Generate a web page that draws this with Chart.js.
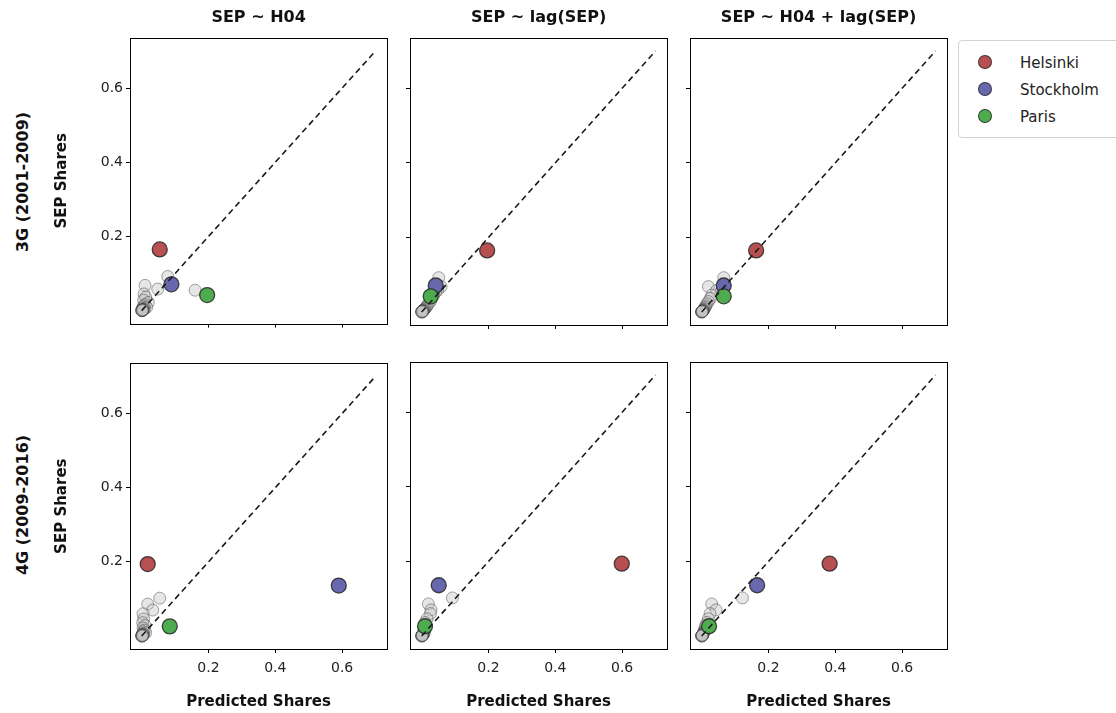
<!DOCTYPE html>
<html>
<head>
<meta charset="utf-8">
<script src="https://cdn.jsdelivr.net/npm/chart.js@4.4.1/dist/chart.umd.min.js"></script>
<style>
  body { margin: 0; background: #fff; width: 1116px; height: 713px; overflow: hidden; position: relative; font-family: 'DejaVu Sans', sans-serif; }
  canvas { position: absolute; }
  .rowlabel { position: absolute; font-weight: bold; font-size: 16px; color: #111; white-space: nowrap; transform: translate(-50%, -50%) rotate(-90deg); }
  .legend { position: absolute; left: 958px; top: 40px; width: 180px; height: 96px; border: 1px solid #d2d2d2; border-radius: 4px; background: #fff; }
  .legend .item { position: absolute; left: 0; height: 20px; }
  .legend .dot { position: absolute; left: 19px; top: 2px; width: 14px; height: 14px; border-radius: 50%; box-sizing: border-box; border: 1px solid rgba(40,40,40,0.8); }
  .legend .txt { position: absolute; left: 61px; top: 0; font-size: 15px; line-height: 20px; color: #222; }
</style>
</head>
<body>
<div class="rowlabel" style="left:22px;top:182px">3G (2001-2009)</div>
<div class="rowlabel" style="left:22px;top:505px">4G (2009-2016)</div>
<div class="legend" id="legend"></div>
<script>
const models = ['SEP ~ H04', 'SEP ~ lag(SEP)', 'SEP ~ H04 + lag(SEP)'];
const generations = ['3G (2001-2009)', '4G (2009-2016)'];
const cities = ['Helsinki', 'Stockholm', 'Paris'];
const cityColors = ['#b84f50', '#6868ae', '#4eac4e'];
const tickValues = [0.2, 0.4, 0.6];

// actual SEP shares of the highlighted cities, per generation
const actual3G = [0.165, 0.071, 0.042];
const actual4G = [0.194, 0.136, 0.026];
// predicted shares of highlighted cities, per model
const pred3G = [
  [0.054, 0.089, 0.196],
  [0.196, 0.042, 0.027],
  [0.163, 0.066, 0.066]
];
const pred4G = [
  [0.018, 0.590, 0.084],
  [0.599, 0.051, 0.010],
  [0.383, 0.166, 0.022]
];

// other cities (grey)
const otherActual3G = [0.092, 0.068, 0.058, 0.055, 0.045, 0.036, 0.028, 0.022, 0.016, 0.012, 0.009, 0.007, 0.005, 0.004, 0.003, 0.002, 0.002, 0.001, 0.001, 0.0, 0.0, 0.001, 0.0, 0.002];
const otherPred3G = [
  [0.078, 0.010, 0.048, 0.160, 0.007, 0.012, 0.006, 0.020, 0.010, 0.005, 0.015, 0.003, 0.008, 0.002, 0.006, 0.004, 0.001, 0.003, 0.002, 0.001, 0.0, 0.0, 0.002, 0.003],
  [0.051, 0.058, 0.048, 0.042, 0.036, 0.030, 0.026, 0.020, 0.016, 0.013, 0.010, 0.008, 0.006, 0.005, 0.004, 0.003, 0.002, 0.002, 0.001, 0.001, 0.0, 0.001, 0.0, 0.003],
  [0.066, 0.020, 0.045, 0.058, 0.030, 0.026, 0.020, 0.016, 0.012, 0.010, 0.008, 0.006, 0.005, 0.004, 0.003, 0.003, 0.002, 0.001, 0.001, 0.0, 0.0, 0.001, 0.001, 0.002]
];
const otherActual4G = [0.102, 0.086, 0.070, 0.060, 0.046, 0.036, 0.028, 0.022, 0.016, 0.012, 0.009, 0.007, 0.005, 0.004, 0.003, 0.002, 0.002, 0.001, 0.001, 0.0, 0.0, 0.001, 0.0, 0.002];
const otherPred4G = [
  [0.054, 0.018, 0.033, 0.004, 0.006, 0.003, 0.010, 0.004, 0.008, 0.005, 0.012, 0.003, 0.006, 0.002, 0.004, 0.001, 0.003, 0.002, 0.001, 0.0, 0.001, 0.0, 0.002, 0.003],
  [0.092, 0.020, 0.028, 0.026, 0.016, 0.010, 0.012, 0.008, 0.010, 0.006, 0.008, 0.004, 0.006, 0.003, 0.004, 0.002, 0.003, 0.001, 0.002, 0.0, 0.0, 0.001, 0.001, 0.002],
  [0.122, 0.030, 0.043, 0.025, 0.020, 0.016, 0.012, 0.010, 0.009, 0.007, 0.006, 0.005, 0.004, 0.003, 0.003, 0.002, 0.002, 0.001, 0.001, 0.0, 0.0, 0.001, 0.002, 0.001]
];

const fontes = "'DejaVu Sans', sans-serif";
const letterColor = '#222';
const plotLeft = [130, 410, 690];
const plotW = 260, plotH = 287, yW = 77, padRight = 6;

// frame around each plot area
const framePlugin = {
  id: 'frame',
  afterDraw(chart) {
    const a = chart.chartArea, ctx = chart.ctx;
    ctx.save();
    ctx.strokeStyle = '#000';
    ctx.lineWidth = 1;
    ctx.strokeRect(Math.round(a.left) + 0.5, Math.round(a.top) + 0.5, Math.round(a.right - a.left), Math.round(a.bottom - a.top));
    ctx.restore();
  }
};

function makePanel(row, col) {
  const actual = row === 0 ? actual3G : actual4G;
  const pred = row === 0 ? pred3G[col] : pred4G[col];
  const oAct = row === 0 ? otherActual3G : otherActual4G;
  const oPred = row === 0 ? otherPred3G[col] : otherPred4G[col];
  const topBlock = row === 0 ? 30 : 10;
  const xH = row === 0 ? 10 : 62;

  const cv = document.createElement('canvas');
  cv.width = yW + plotW + padRight;
  cv.height = topBlock + plotH + xH;
  cv.style.left = (plotLeft[col] - yW) + 'px';
  cv.style.top = (row === 0 ? 38 - topBlock : 362 - topBlock) + 'px';
  document.body.appendChild(cv);

  const datasets = [{
    type: 'line',
    data: [{ x: 0, y: 0 }, { x: 0.7, y: 0.7 }],
    borderColor: '#1a1a1a',
    borderWidth: 1.6,
    borderDash: [6, 4],
    pointRadius: 0,
    fill: false
  }];
  for (let i = cities.length - 1; i >= 0; i--) {
    datasets.push({
      label: cities[i],
      data: [{ x: pred[i], y: actual[i] }],
      backgroundColor: cityColors[i],
      borderColor: 'rgba(40,40,40,0.85)',
      borderWidth: 1.3,
      pointRadius: 7.5
    });
  }
  datasets.push({
    label: 'other',
    data: oPred.map((v, i) => ({ x: v, y: oAct[i] })),
    backgroundColor: 'rgba(195,195,195,0.42)',
    borderColor: 'rgba(55,55,55,0.45)',
    borderWidth: 1,
    pointRadius: 6
  });

  const axis = (showLabels, titleText, fitFn) => ({
    type: 'linear',
    min: -0.035,
    max: 0.735,
    afterBuildTicks: s => { s.ticks = tickValues.map(v => ({ value: v })); },
    afterFit: fitFn,
    grid: { drawOnChartArea: false, drawTicks: true, tickLength: 4, color: '#000', tickWidth: 1 },
    border: { display: false },
    ticks: {
      display: showLabels,
      color: letterColor,
      padding: 3,
      font: { family: fontes, size: 14 },
      callback: v => v.toFixed(1)
    },
    title: {
      display: !!titleText,
      text: titleText || '',
      color: '#111',
      padding: 0,
      font: { family: fontes, size: 15, weight: 'bold' }
    }
  });

  const xAxis = axis(row === 1, row === 1 ? 'Predicted Shares' : '', s => { s.height = xH; });
  xAxis.ticks.padding = 7;
  const yAxis = axis(col === 0, col === 0 ? 'SEP Shares' : '', s => { s.width = yW; });

  new Chart(cv.getContext('2d'), {
    type: 'scatter',
    data: { datasets },
    options: {
      responsive: false,
      animation: false,
      layout: { padding: { left: 0, right: padRight, top: row === 0 ? 0 : topBlock, bottom: 0 } },
      scales: { x: xAxis, y: yAxis },
      plugins: {
        legend: { display: false },
        tooltip: { enabled: false },
        title: {
          display: row === 0,
          fullSize: false,
          text: models[col],
          color: '#111',
          padding: { top: 0, bottom: 10 },
          font: { family: fontes, size: 16, weight: 'bold', lineHeight: 1.25 }
        }
      }
    },
    plugins: [framePlugin]
  });
}

for (let r = 0; r < generations.length; r++) {
  for (let c = 0; c < models.length; c++) makePanel(r, c);
}

const legend = document.getElementById('legend');
cities.forEach((name, i) => {
  const item = document.createElement('div');
  item.className = 'item';
  item.style.top = (12 + i * 27) + 'px';
  item.innerHTML = '<span class="dot" style="background:' + cityColors[i] + '"></span><span class="txt">' + name + '</span>';
  legend.appendChild(item);
});
</script>
</body>
</html>
